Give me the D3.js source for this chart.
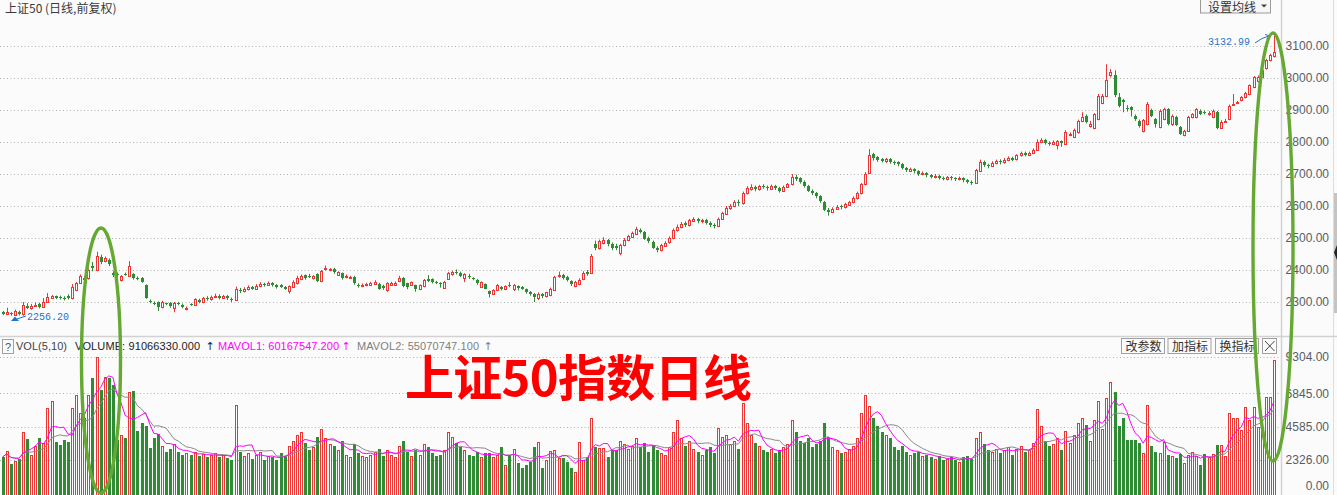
<!DOCTYPE html>
<html><head><meta charset="utf-8">
<script src="https://cdn.jsdelivr.net/npm/d3@7"></script>
<style>
html,body{margin:0;padding:0;background:#fbfbfb;overflow:hidden}
svg{display:block}
</style></head><body>
<svg id="c" width="1337" height="495"></svg>
<script>
// ---- data ----
const opens=[
2268,2262,2266,2259,2270,2262,2288,2280,2288,2294,
2284,2300,2312,2318,2316,2314,2318,2312,2338,2360,
2371,2374,2412,2400,2440,2428,2432,2392,2388,2368,
2388,2382,2386,2376,2374,2353,2304,2298,2300,2284,
2296,2298,2282,2296,2292,2278,2294,2292,2306,2300,
2312,2308,2316,2320,2314,2318,2310,2306,2338,2334,
2340,2346,2342,2350,2356,2354,2358,2352,2353,2347,
2334,2347,2358,2372,2384,2382,2374,2386,2365,2402,
2400,2403,2385,2390,2378,2377,2379,2354,2350,2353,
2354,2356,2356,2350,2337,2353,2354,2365,2376,2358,
2353,2352,2342,2350,2372,2371,2362,2358,2345,2372,
2386,2395,2392,2376,2382,2374,2368,2347,2356,2334,
2326,2337,2347,2342,2354,2340,2350,2346,2340,2330,
2326,2311,2326,2318,2321,2339,2380,2384,2379,2366,
2350,2356,2372,2395,2392,2480,2468,2485,2494,2482,
2476,2452,2478,2494,2504,2514,2526,2518,2500,2488,
2470,2462,2476,2486,2500,2524,2534,2546,2540,2554,
2560,2552,2556,2548,2542,2538,2560,2576,2594,2600,
2614,2608,2640,2654,2660,2652,2664,2660,2654,2662,
2656,2648,2660,2668,2692,2686,2676,2662,2648,2640,
2630,2612,2588,2582,2592,2600,2596,2604,2612,2624,
2640,2668,2702,2762,2752,2746,2740,2746,2738,2736,
2730,2718,2710,2716,2708,2700,2704,2696,2690,2694,
2688,2684,2690,2686,2684,2688,2680,2676,2672,2710,
2738,2728,2726,2734,2742,2736,2744,2750,2746,2758,
2766,2760,2766,2776,2800,2806,2798,2793,2792,2803,
2795,2822,2816,2830,2866,2882,2851,2843,2872,2921,
2945,3008,3008,2940,2931,2905,2908,2882,2866,2835,
2856,2900,2872,2847,2872,2903,2856,2879,2847,2822,
2835,2877,2877,2898,2894,2888,2877,2893,2845,2864,
2872,2917,2921,2931,2940,2950,2972,2990,3003,3030,
3056,3069];
const closes=[
2263,2268,2261,2272,2262,2290,2282,2288,2292,2284,
2300,2316,2318,2314,2312,2309,2312,2346,2358,2380,
2375,2400,2406,2445,2424,2438,2420,2385,2383,2380,
2386,2412,2375,2374,2364,2313,2302,2296,2284,2300,
2294,2286,2298,2295,2284,2282,2292,2308,2300,2312,
2308,2316,2320,2314,2318,2312,2306,2340,2334,2340,
2346,2342,2350,2356,2352,2358,2352,2348,2347,2342,
2349,2363,2376,2382,2374,2379,2381,2365,2397,2405,
2403,2393,2393,2374,2380,2379,2358,2352,2354,2356,
2360,2362,2342,2343,2358,2360,2360,2376,2350,2347,
2361,2340,2352,2368,2365,2361,2360,2355,2363,2390,
2394,2390,2382,2386,2380,2371,2358,2361,2342,2326,
2337,2352,2340,2349,2350,2352,2343,2342,2331,2325,
2316,2326,2318,2330,2342,2379,2385,2374,2368,2356,
2362,2370,2392,2388,2445,2470,2490,2495,2480,2470,
2470,2478,2495,2505,2515,2528,2520,2498,2490,2470,
2462,2478,2485,2500,2525,2535,2545,2540,2555,2558,
2552,2556,2548,2540,2538,2560,2578,2595,2600,2612,
2608,2640,2655,2660,2652,2662,2660,2655,2662,2655,
2648,2660,2668,2690,2685,2675,2662,2648,2640,2630,
2615,2588,2582,2592,2598,2596,2605,2612,2625,2640,
2668,2700,2760,2750,2745,2742,2746,2738,2735,2730,
2718,2712,2715,2708,2700,2704,2696,2692,2695,2688,
2685,2690,2686,2684,2688,2680,2676,2672,2712,2738,
2728,2725,2735,2740,2736,2745,2750,2745,2758,2765,
2760,2766,2775,2800,2805,2798,2795,2801,2802,2798,
2830,2826,2838,2866,2879,2861,2855,2887,2945,2945,
2993,3019,2947,2914,2924,2903,2900,2872,2851,2868,
2919,2882,2856,2898,2903,2856,2882,2854,2826,2834,
2879,2887,2903,2887,2891,2892,2898,2845,2864,2867,
2914,2920,2924,2940,2953,2977,3003,3003,3024,3056,
3072,3082];
const highs=[
2272,2282,2268,2276,2273,2300,2296,2294,2298,2297,
2312,2328,2322,2320,2320,2318,2324,2356,2362,2386,
2380,2405,2425,2457,2448,2442,2436,2396,2392,2384,
2392,2428,2390,2380,2378,2355,2308,2302,2302,2304,
2298,2300,2300,2300,2295,2286,2296,2312,2310,2316,
2318,2320,2326,2324,2322,2322,2314,2348,2344,2346,
2352,2350,2356,2362,2360,2364,2362,2356,2356,2350,
2352,2368,2382,2386,2386,2388,2384,2390,2400,2414,
2406,2407,2396,2392,2386,2382,2382,2358,2358,2360,
2363,2368,2360,2354,2362,2363,2364,2382,2378,2360,
2364,2354,2355,2372,2384,2374,2366,2362,2366,2394,
2398,2402,2395,2390,2388,2377,2372,2364,2358,2336,
2340,2356,2350,2352,2362,2356,2352,2350,2342,2334,
2328,2330,2328,2332,2345,2382,2395,2388,2382,2368,
2366,2374,2396,2400,2450,2492,2495,2502,2497,2486,
2482,2482,2500,2510,2520,2535,2530,2522,2504,2492,
2474,2482,2490,2505,2530,2542,2550,2552,2560,2565,
2563,2560,2560,2552,2546,2564,2582,2600,2606,2618,
2620,2645,2662,2668,2664,2666,2668,2664,2667,2666,
2660,2664,2672,2700,2698,2690,2680,2666,2652,2644,
2634,2616,2594,2596,2603,2604,2610,2616,2630,2645,
2672,2706,2778,2766,2756,2750,2750,2750,2742,2740,
2734,2722,2720,2718,2712,2708,2706,2700,2700,2698,
2692,2694,2694,2690,2692,2690,2684,2680,2716,2745,
2742,2732,2740,2745,2746,2750,2755,2754,2762,2770,
2770,2770,2780,2808,2812,2810,2802,2805,2806,2805,
2837,2830,2842,2870,2893,2886,2866,2890,2950,2950,
3043,3028,3024,2953,2935,2915,2912,2886,2870,2872,
2925,2904,2875,2902,2907,2906,2886,2882,2850,2838,
2882,2890,2906,2902,2898,2896,2902,2897,2868,2872,
2917,2950,2928,2944,2957,2980,3006,3008,3028,3060,
3076,3132.99];
const lows=[
2259,2259,2257,2256.2,2258,2257,2278,2276,2284,2280,
2282,2298,2310,2309,2308,2305,2308,2308,2334,2356,
2366,2370,2396,2396,2418,2424,2412,2378,2376,2364,
2382,2378,2370,2368,2360,2310,2296,2290,2272,2280,
2290,2282,2268,2290,2280,2274,2288,2290,2296,2296,
2304,2304,2312,2308,2310,2306,2300,2304,2328,2330,
2336,2338,2338,2346,2348,2350,2348,2342,2344,2338,
2326,2344,2355,2368,2370,2375,2370,2362,2362,2398,
2396,2388,2382,2370,2374,2373,2354,2345,2346,2349,
2350,2353,2338,2338,2332,2350,2350,2362,2346,2340,
2350,2332,2338,2346,2362,2358,2356,2345,2342,2370,
2382,2386,2378,2362,2372,2368,2354,2344,2340,2314,
2324,2334,2336,2338,2346,2334,2336,2338,2326,2320,
2300,2306,2312,2314,2318,2336,2376,2370,2364,2350,
2346,2352,2368,2382,2388,2462,2464,2480,2474,2462,
2462,2446,2474,2490,2500,2510,2514,2494,2484,2466,
2455,2458,2472,2482,2496,2520,2530,2534,2536,2550,
2546,2546,2542,2534,2530,2534,2556,2572,2588,2596,
2600,2604,2636,2648,2646,2648,2654,2648,2650,2650,
2642,2644,2656,2664,2678,2670,2658,2644,2634,2624,
2610,2584,2570,2578,2588,2590,2592,2600,2608,2620,
2636,2664,2700,2742,2738,2736,2734,2732,2728,2724,
2714,2706,2706,2702,2694,2696,2690,2686,2686,2682,
2680,2680,2680,2678,2680,2674,2670,2666,2670,2706,
2722,2718,2722,2730,2730,2732,2740,2740,2742,2754,
2755,2756,2762,2772,2796,2792,2788,2790,2777,2785,
2792,2818,2812,2826,2862,2858,2845,2840,2868,2918,
2940,3002,2940,2908,2893,2895,2880,2866,2845,2830,
2852,2878,2845,2843,2868,2852,2850,2850,2822,2818,
2832,2874,2874,2884,2886,2882,2874,2840,2842,2860,
2868,2914,2918,2927,2936,2946,2968,2986,3000,3026,
3052,3064];
const volumes=[
2530,2960,2060,2280,2400,4240,3750,2670,3280,3820,
3480,5840,6320,3570,3345,3680,3570,5820,6720,5500,
5170,6700,7870,9304,7060,7960,7870,7400,3700,4000,
3800,6930,7000,4300,4830,4600,3140,3800,4100,3300,
2900,3100,3400,2900,2700,2800,2700,2900,2600,2750,
2500,2650,2800,2550,2700,2450,2300,6050,2900,2600,
2800,2400,2700,2900,2300,2600,2500,2300,2800,2600,
3300,3600,4000,4200,3500,3000,3200,3900,4400,3800,
3400,3300,3000,3600,2700,2500,3400,2800,2600,2500,
2700,2900,3100,2600,3000,2700,2500,3300,3600,2900,
2600,3000,2700,3400,3200,2800,2600,2700,3000,4200,
3900,3500,3200,3000,2700,2600,2900,2500,2800,2800,
2500,2700,3230,1990,2670,3070,2150,1790,1990,2220,
3230,3570,1790,2330,2960,3000,2445,2490,2220,1810,
1540,3570,2330,2510,5190,3230,3120,3160,2510,3000,
3000,3600,3400,3100,3300,3800,3200,3500,2900,3300,
3000,2800,2700,3200,4200,5000,3800,3300,3600,3100,
2900,2700,3000,3200,2800,4500,3900,4000,3400,3600,
3100,6150,4800,4000,3500,3300,3000,2900,3100,2800,
3000,3200,3400,5000,4200,3600,3500,3800,3200,3400,
3600,4800,3900,3200,3000,2800,2900,3100,3300,3800,
5500,6700,6000,5200,4600,4200,4000,3800,3200,3000,
3300,2900,2700,2800,2900,2600,2700,2500,2400,2600,
2300,2400,2500,2300,2200,2500,2600,2400,3800,4200,
3400,3000,2900,3100,2800,3000,3200,2700,3100,3300,
2900,3000,3500,5800,4600,3600,3300,3400,3800,3000,
4300,3500,4000,4800,5200,4700,3600,5000,6300,4420,
6500,7620,6900,4650,5150,3680,3680,3680,3460,2820,
6050,3280,2890,2780,3570,2670,2600,2445,2740,2110,
2670,2890,2600,1990,2740,2500,2740,3345,3345,2600,
5490,5150,5150,4360,5890,5030,5890,4580,4580,6610,
6610,9106.6];
const priceTicks=[3100,3000,2900,2800,2700,2600,2500,2400,2300];
const volTicks=[9304,6845,4585,2326,0];
const maxLabel="3132.99", minLabel="2256.20";
const titleText="上证50 (日线,前复权)";
const volHeader=["VOL(5,10)","VOLUME: 91066330.000","MAVOL1: 60167547.200","MAVOL2: 55070747.100"];
const volButtons=["改参数","加指标","换指标"];
const bigTitle="上证50指数日线";

// ---- drawing ----
const BG='#fbfbfb', RED='#ec3535', GREEN='#2f8c35', BLUE='#1f74cc', ELL='#65a832';
const LAT='"Liberation Sans", Arial, "DejaVu Sans", sans-serif';
const CJK='"Noto Sans CJK SC", "Noto Sans", sans-serif';
const svg=d3.select('#c');
svg.append('rect').attr('width',1337).attr('height',495).attr('fill',BG);
const n=d3.min([opens.length,closes.length,highs.length,lows.length,volumes.length]);
const idx=d3.range(n);
const x=d3.scaleLinear().domain([0,311]).range([2.5,1274]);
const y=d3.scaleLinear().domain([2300,3100]).range([302,46]);
const yv=d3.scaleLinear().domain([0,9304]).range([494.5,356.8]);
const left=i=>Math.round(x(i))-1;

// grid lines
const grid=svg.append('g').attr('stroke','#b0b0b0').attr('stroke-dasharray','1,2.5');
grid.selectAll('line.p').data(priceTicks).join('line').attr('class','p')
  .attr('x1',0).attr('x2',1281).attr('y1',d=>Math.round(y(d))+0.5).attr('y2',d=>Math.round(y(d))+0.5);
grid.selectAll('line.v').data(volTicks.filter(d=>d>0)).join('line').attr('class','v')
  .attr('x1',0).attr('x2',1281).attr('y1',d=>Math.round(yv(d))+0.5).attr('y2',d=>Math.round(yv(d))+0.5);

// separators
svg.append('line').attr('x1',1281.5).attr('x2',1281.5).attr('y1',0).attr('y2',495).attr('stroke','#d2d2d2').attr('stroke-width',1.5);
svg.append('line').attr('x1',1333.5).attr('x2',1333.5).attr('y1',0).attr('y2',495).attr('stroke','#dedede');
svg.append('line').attr('x1',0).attr('x2',1337).attr('y1',336.5).attr('y2',336.5).attr('stroke','#d2d2d2').attr('stroke-width',1.5);
svg.append('rect').attr('x',1334).attr('y',193).attr('width',3).attr('height',120).attr('fill','#c4c4c4');
svg.append('path').attr('d','M1337,245 L1334,252.5 L1337,260 Z').attr('fill','#222');

// candles
const up=i=>closes[i]>=opens[i];
const cg=svg.append('g');
cg.selectAll('line.wt').data(idx).join('line').attr('class','wt')
  .attr('x1',i=>left(i)+1.5).attr('x2',i=>left(i)+1.5)
  .attr('y1',i=>y(highs[i])).attr('y2',i=>Math.round(y(Math.max(opens[i],closes[i]))))
  .attr('stroke',i=>up(i)?RED:GREEN).attr('stroke-width',1);
cg.selectAll('line.wb').data(idx).join('line').attr('class','wb')
  .attr('x1',i=>left(i)+1.5).attr('x2',i=>left(i)+1.5)
  .attr('y1',i=>Math.round(y(Math.min(opens[i],closes[i])))).attr('y2',i=>y(lows[i]))
  .attr('stroke',i=>up(i)?RED:GREEN).attr('stroke-width',1);
cg.selectAll('rect').data(idx).join('rect')
  .each(function(i){
    const t=Math.round(y(Math.max(opens[i],closes[i]))), b=Math.round(y(Math.min(opens[i],closes[i])));
    const s=d3.select(this);
    if(up(i)){
      s.attr('x',left(i)+0.5).attr('y',t+0.5).attr('width',2).attr('height',Math.max(b-t,1))
       .attr('fill',BG).attr('stroke',RED).attr('stroke-width',1);
    }else{
      s.attr('x',left(i)).attr('y',t).attr('width',3).attr('height',Math.max(b-t,1)).attr('fill',GREEN);
    }
  });

// volume bars
const vg=svg.append('g');
vg.selectAll('rect').data(idx).join('rect')
  .each(function(i){
    const t=Math.round(yv(volumes[i]));
    const s=d3.select(this);
    if(up(i)){
      s.attr('x',left(i)+0.5).attr('y',t+0.5).attr('width',2).attr('height',500-t)
       .attr('fill',BG).attr('stroke',RED).attr('stroke-width',1);
    }else{
      s.attr('x',left(i)).attr('y',t).attr('width',3).attr('height',500-t).attr('fill',GREEN);
    }
  });

// volume moving averages
const movAvg=(arr,k)=>arr.map((_,i)=>d3.mean(arr.slice(Math.max(0,i-k+1),i+1)));
const ma5=movAvg(volumes.slice(0,n),5), ma10=movAvg(volumes.slice(0,n),10);
svg.append('path').datum(idx).attr('fill','none').attr('stroke','#8a8a8a').attr('stroke-width',1)
  .attr('d',d3.line().x(i=>x(i)).y(i=>yv(ma10[i])));
svg.append('path').datum(idx).attr('fill','none').attr('stroke','#ff00ff').attr('stroke-width',1)
  .attr('d',d3.line().x(i=>x(i)).y(i=>yv(ma5[i])));

// axes
const pa=svg.append('g').attr('transform','translate(1329,0)')
  .call(d3.axisRight(y).tickValues(priceTicks).tickFormat(d3.format('.2f')).tickSize(0).tickPadding(0));
pa.select('.domain').remove();
pa.selectAll('text').attr('text-anchor','end').attr('fill','#585c66').style('font','12px '+LAT);
const va=svg.append('g').attr('transform','translate(1329,0)')
  .call(d3.axisRight(yv).tickValues(volTicks).tickFormat(d3.format('.2f')).tickSize(0).tickPadding(0));
va.select('.domain').remove();
va.selectAll('text').attr('text-anchor','end').attr('fill','#585c66').style('font','12px '+LAT)
  .filter(d=>d===0).attr('y',-8.5);

// title and top button
svg.append('text').attr('x',5).attr('y',13).attr('fill','#3a3a3a').style('font','12px '+CJK).text(titleText);
svg.append('rect').attr('x',1200.5).attr('y',-1.5).attr('width',70).attr('height',14.5).attr('fill','#f7f7f7').attr('stroke','#9a9a9a');
svg.append('text').attr('x',1208).attr('y',11.5).attr('fill','#333').style('font','12px '+CJK).text('设置均线');
svg.append('path').attr('d','M1261,4.5 L1267,4.5 L1264,7.5 Z').attr('fill','#444');

// max / min markers
svg.append('text').attr('x',1208).attr('y',45).attr('fill',BLUE).style('font','10px "Liberation Mono", "DejaVu Sans Mono", monospace').text(maxLabel);
svg.append('path').attr('d','M1255,43 L1262,38.5 L1269,36').attr('fill','none').attr('stroke',BLUE);
svg.append('path').attr('d','M1265,34.5 L1270,36 L1266.5,39').attr('fill','none').attr('stroke',BLUE);
svg.append('text').attr('x',27).attr('y',320).attr('fill',BLUE).style('font','10px "Liberation Mono", "DejaVu Sans Mono", monospace').text(minLabel);
svg.append('path').attr('d','M11,321 L15,316.5 L19,321 Z').attr('fill',BLUE);
svg.append('line').attr('x1',17).attr('y1',319).attr('x2',26).attr('y2',316).attr('stroke',BLUE);

// volume header
svg.append('rect').attr('x',2.5).attr('y',339.5).attr('width',11).attr('height',14).attr('fill','none').attr('stroke','#a0a0a0');
svg.append('text').attr('x',5).attr('y',350.5).attr('fill','#555').style('font','11px '+LAT).text('?');
const hdr=[{t:volHeader[0],x:16,w:51,c:'#444'},{t:volHeader[1],x:75,w:125,c:'#222'},
  {t:volHeader[2],x:218,w:121,c:'#ff00ff'},{t:volHeader[3],x:357,w:122,c:'#808080'}];
svg.selectAll('text.hd').data(hdr).join('text').attr('class','hd')
  .attr('x',d=>d.x).attr('y',350).attr('fill',d=>d.c).attr('textLength',d=>d.w)
  .style('font','11px '+LAT).text(d=>d.t);
const arr=[{x:210,c:'#222'},{x:346,c:'#ff00ff'},{x:488,c:'#808080'}];
svg.selectAll('text.ar').data(arr).join('text').attr('class','ar')
  .attr('x',d=>d.x).attr('y',350).attr('text-anchor','middle').attr('fill',d=>d.c)
  .style('font','11px "DejaVu Sans", sans-serif').text('↑');

// volume buttons
const bx=[1121,1167.5,1215];
volButtons.forEach((t,k)=>{
  svg.append('rect').attr('x',bx[k]+0.5).attr('y',338.5).attr('width',43).attr('height',15).attr('fill',BG).attr('stroke','#a0a0a0');
  svg.append('text').attr('x',bx[k]+4.5).attr('y',351).attr('fill','#333').style('font','12px '+CJK).text(t);
});
svg.append('rect').attr('x',1262.5).attr('y',338.5).attr('width',14).attr('height',15).attr('fill',BG).attr('stroke','#a0a0a0');
svg.append('path').attr('d','M1265,341 L1274.5,351 M1274.5,341 L1265,351').attr('stroke','#444').attr('fill','none');

// big red annotation
svg.append('text').attr('x',405).attr('y',374).attr('dominant-baseline','central')
  .attr('fill','#ff0000').attr('textLength',347)
  .style('font','700 49px '+CJK).text(bigTitle);

// green hand-drawn ellipses
svg.append('ellipse').attr('cx',101).attr('cy',360.5).attr('rx',19.5).attr('ry',132.5)
  .attr('fill','none').attr('stroke',ELL).attr('stroke-width',3.4);
svg.append('ellipse').attr('cx',1273).attr('cy',247).attr('rx',20).attr('ry',214)
  .attr('fill','none').attr('stroke',ELL).attr('stroke-width',3.4);
</script>
</body></html>
